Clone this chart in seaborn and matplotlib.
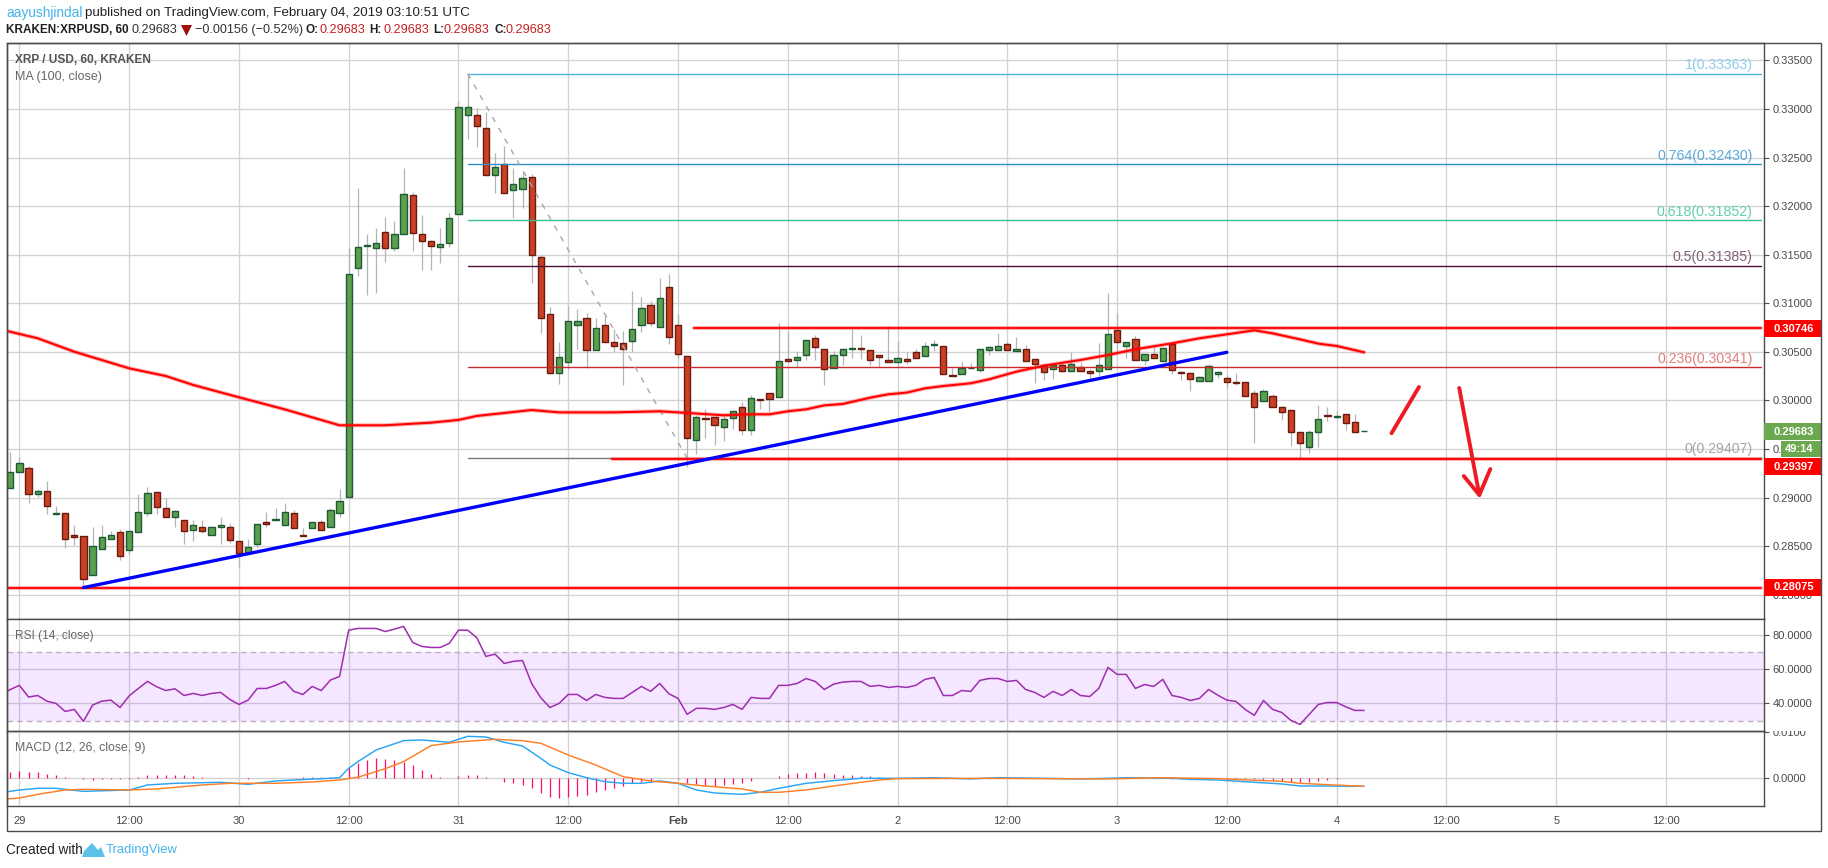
import pandas as pd
import matplotlib.pyplot as plt
import seaborn as sns
from matplotlib.patches import Polygon, Rectangle

sns.set_style("whitegrid")
plt.rcParams['font.family'] = 'Liberation Sans'
plt.rcParams['font.size'] = 8

WIDTH = 1828
HEIGHT = 868
FRAME = '#4b4b4b'
GRID = '#d3d3d3'
TEXT = '#4a4a4a'

# open, high, low, close for every hour, first row is 28 Jan 23:00
CANDLES = [
    (.29097, .29471, .29097, .29261), (.29261, .29416, .29261, .29354), (.29303, .29327, .28949, .29035),
    (.29035, .29087, .29011, .29066), (.29066, .29172, .28836, .28912), (.28836, .28915, .28826, .28843),
    (.28840, .28840, .28486, .28572), (.28613, .28720, .28517, .28600), (.28603, .28603, .28085, .28161),
    (.28202, .28699, .28202, .28500), (.28469, .28720, .28469, .28593), (.28579, .28654, .28579, .28613),
    (.28644, .28675, .28363, .28397), (.28459, .28665, .28425, .28654), (.28644, .29039, .28644, .28850),
    (.28840, .29111, .28816, .29045), (.29056, .29056, .28836, .28901), (.28891, .28994, .28798, .28798),
    (.28798, .28870, .28699, .28860), (.28768, .28768, .28528, .28654), (.28665, .28771, .28558, .28716),
    (.28696, .28771, .28641, .28661), (.28613, .28696, .28613, .28696), (.28696, .28802, .28528, .28716),
    (.28696, .28737, .28531, .28562), (.28552, .28552, .28291, .28428), (.28428, .28576, .28428, .28490),
    (.28521, .28726, .28497, .28726), (.28747, .28850, .28702, .28726), (.28768, .28891, .28768, .28778),
    (.28716, .28946, .28716, .28850), (.28840, .28870, .28685, .28685), (.28613, .28685, .28603, .28603),
    (.28685, .28747, .28685, .28747), (.28747, .28771, .28665, .28665), (.28696, .28891, .28696, .28870),
    (.28840, .29090, .28802, .28963), (.29004, .31565, .29004, .31298), (.31359, .32182, .31284, .31576),
    (.31586, .31713, .31089, .31596), (.31565, .31771, .31109, .31624), (.31730, .31888, .31428, .31565),
    (.31565, .31846, .31538, .31709), (.31709, .32388, .31709, .32121), (.32110, .32141, .31538, .31720),
    (.31709, .31905, .31346, .31637), (.31637, .31651, .31346, .31586), (.31576, .31771, .31418, .31606),
    (.31617, .31925, .31582, .31874), (.31915, .33081, .31915, .33016), (.32933, .33363, .32693, .33016),
    (.32933, .33005, .32611, .32820), (.32800, .32964, .32316, .32316), (.32316, .32542, .32138, .32398),
    (.32429, .32614, .32131, .32131), (.32162, .32388, .31877, .32224), (.32172, .32350, .31984, .32285),
    (.32296, .32326, .31205, .31493), (.31473, .31493, .30698, .30845), (.30886, .30958, .30269, .30279),
    (.30279, .30598, .30173, .30444), (.30392, .30969, .30320, .30814), (.30773, .30938, .30533, .30814),
    (.30845, .30897, .30331, .30516), (.30516, .30845, .30516, .30742), (.30773, .30886, .30598, .30598),
    (.30598, .30732, .30502, .30557), (.30588, .30711, .30163, .30526), (.30609, .31123, .30502, .30732),
    (.30773, .31061, .30708, .30948), (.30979, .31020, .30770, .30794), (.30753, .31257, .30753, .31051),
    (.31164, .31301, .30585, .30650), (.30773, .30886, .30437, .30475), (.30454, .30454, .29319, .29611),
    (.29590, .29848, .29446, .29827), (.29817, .29909, .29618, .29806), (.29827, .29827, .29539, .29745),
    (.29724, .29858, .29587, .29806), (.29817, .29889, .29704, .29889), (.29930, .29981, .29642, .29693),
    (.29693, .30057, .29649, .30022), (.30012, .30012, .29916, .30002), (.30074, .30074, .29878, .30012),
    (.30033, .30794, .30033, .30403), (.30424, .30712, .30403, .30403), (.30413, .30506, .30341, .30444),
    (.30465, .30619, .30420, .30619), (.30640, .30674, .30413, .30547), (.30527, .30527, .30163, .30321),
    (.30331, .30506, .30331, .30465), (.30465, .30537, .30369, .30527), (.30527, .30732, .30441, .30537),
    (.30537, .30671, .30424, .30527), (.30516, .30516, .30362, .30413), (.30465, .30465, .30341, .30444),
    (.30413, .30763, .30393, .30393), (.30393, .30609, .30331, .30434), (.30424, .30496, .30372, .30403),
    (.30496, .30527, .30434, .30434), (.30454, .30599, .30454, .30557), (.30568, .30619, .30509, .30578),
    (.30557, .30557, .30269, .30269), (.30262, .30331, .30256, .30256), (.30269, .30393, .30269, .30338),
    (.30331, .30382, .30331, .30335), (.30310, .30527, .30290, .30527), (.30516, .30557, .30465, .30547),
    (.30516, .30695, .30516, .30557), (.30578, .30599, .30516, .30516), (.30506, .30650, .30506, .30527),
    (.30527, .30568, .30403, .30403), (.30424, .30424, .30184, .30372), (.30362, .30372, .30214, .30290),
    (.30321, .30382, .30225, .30362), (.30362, .30393, .30290, .30300), (.30300, .30496, .30300, .30372),
    (.30341, .30393, .30300, .30300), (.30300, .30321, .30218, .30280), (.30300, .30592, .30249, .30362),
    (.30321, .31106, .30321, .30681), (.30722, .30900, .30475, .30599), (.30557, .30599, .30434, .30599),
    (.30629, .30660, .30413, .30413), (.30413, .30475, .30365, .30475), (.30475, .30547, .30434, .30434),
    (.30403, .30537, .30403, .30537), (.30578, .30599, .30276, .30310), (.30290, .30300, .30214, .30280),
    (.30280, .30290, .30101, .30218), (.30197, .30249, .30197, .30238), (.30197, .30376, .30197, .30352),
    (.30269, .30300, .30235, .30290), (.30228, .30259, .30132, .30187), (.30187, .30280, .30163, .30184),
    (.30187, .30187, .30043, .30043), (.30074, .30105, .29566, .29930), (.29992, .30115, .29992, .30094),
    (.30043, .30064, .29930, .29930), (.29930, .29940, .29803, .29878), (.29899, .29899, .29529, .29673),
    (.29673, .29673, .29405, .29560), (.29518, .29697, .29464, .29673), (.29673, .29950, .29518, .29806),
    (.29848, .29930, .29793, .29837), (.29834, .29889, .29813, .29837), (.29858, .29858, .29700, .29765),
    (.29776, .29858, .29673, .29673), (.29683, .29683, .29683, .29683),
]

MA_100 = [
    (-2, .30730), (2, .30640), (6, .30502), (12, .30331), (16, .30252), (19, .30160), (24, .30033),
    (29, .29909), (35, .29745), (40, .29745), (45, .29772), (48, .29800), (50, .29841), (56, .29902),
    (59, .29878), (65, .29878), (70, .29889), (73, .29872), (77, .29848), (80, .29858), (82, .29858),
    (84, .29889), (86, .29909), (88, .29950), (90, .29964), (93, .30029), (95, .30064), (97, .30081),
    (99, .30125), (101, .30149), (104, .30177), (106, .30218), (109, .30297), (112, .30358), (116, .30417),
    (119, .30468), (122, .30527), (126, .30588), (129, .30640), (132, .30681), (135, .30722), (137, .30691),
    (140, .30629), (142, .30585), (144, .30561), (147, .30496),
]

RSI = [
    45.0, 48.1, 50.5, 43.7, 44.6, 41.3, 40.0, 35.3, 36.5, 29.5, 39.0, 41.3, 41.9, 37.6, 44.4, 48.7,
    52.8, 49.7, 47.5, 48.5, 44.6, 45.8, 44.6, 45.8, 46.4, 42.3, 39.4, 41.9, 48.7, 48.7, 50.5, 52.8,
    47.0, 45.2, 49.9, 47.5, 53.6, 55.7, 82.7, 83.7, 83.7, 83.7, 81.9, 83.3, 84.9, 75.5, 73.2, 72.6,
    72.6, 75.0, 82.7, 82.7, 78.3, 67.4, 68.7, 63.3, 64.5, 65.0, 51.6, 43.3, 37.6, 40.0, 45.2, 45.2,
    41.7, 45.2, 43.5, 42.9, 42.9, 46.4, 49.9, 47.0, 51.6, 45.6, 42.9, 33.6, 37.1, 37.1, 36.5, 37.6,
    39.4, 36.5, 43.5, 42.9, 42.9, 50.5, 50.5, 51.6, 54.5, 52.8, 48.1, 51.2, 52.4, 52.8, 52.8, 49.9,
    50.5, 49.3, 49.9, 49.3, 50.5, 54.0, 55.1, 44.6, 44.6, 47.5, 47.0, 53.4, 54.5, 54.5, 52.8, 53.4,
    48.1, 46.4, 43.5, 47.0, 44.6, 48.1, 44.6, 44.0, 48.7, 61.0, 56.9, 56.9, 48.7, 51.0, 49.9, 54.0,
    44.6, 43.5, 41.7, 42.9, 48.1, 44.8, 41.9, 41.1, 36.5, 33.0, 41.7, 36.5, 34.7, 30.1, 27.7, 33.6,
    39.4, 40.5, 40.5, 38.0, 35.9, 35.9,
]

MACD_LINE = [
    (-2, -.00310), (0, -.00252), (2, -.00216), (4, -.00216), (7, -.00281), (12, -.00252), (14, -.00144),
    (17, -.00108), (22, -.00086), (25, -.00130), (28, -.00058), (30, -.00036), (34, 0), (35, .00014),
    (36, .00216), (37, .00360), (39, .00612), (42, .00814), (44, .00828), (47, .00778), (49, .00907),
    (51, .00893), (53, .00778), (55, .00698), (57, .00432), (58, .00288), (60, .00122), (62, .00014),
    (64, -.00072), (66, -.00108), (68, -.00108), (70, -.00058), (72, -.00108), (74, -.00252), (76, -.00317),
    (79, -.00346), (81, -.00302), (83, -.00216), (86, -.00108), (89, -.00050), (92, 0), (96, 0),
    (100, .00014), (104, -.00014), (107, .00014), (112, 0), (116, -.00014), (119, 0), (121, .00014),
    (126, 0), (128, -.00022), (131, -.00036), (135, -.00086), (138, -.00122), (140, -.00166),
    (143, -.00166), (147, -.00173),
]

SIGNAL_LINE = [
    (-2, -.00454), (0, -.00425), (2, -.00346), (5, -.00252), (7, -.00238), (12, -.00252), (15, -.00230),
    (20, -.00144), (23, -.00108), (28, -.00108), (32, -.00079), (35, -.00036), (37, .00022), (40, .00209),
    (42, .00360), (45, .00706), (48, .00785), (52, .00842), (55, .00814), (57, .00756), (60, .00504),
    (63, .00288), (66, .00036), (69, -.00058), (72, -.00108), (75, -.00166), (79, -.00230), (81, -.00302),
    (83, -.00302), (86, -.00252), (89, -.00166), (92, -.00086), (94, -.00036), (96, -.00007), (105, 0),
    (119, -.00014), (125, .00014), (131, -.00007), (135, -.00043), (138, -.00065), (140, -.00108),
    (143, -.00137), (147, -.00173),
]

HISTOGRAM = [
    .00137, .00166, .00137, .00144, .00094, .00072, .00029, .00014, -.00022, -.00029, -.00014, -.00007,
    -.00014, -.00007, .00029, .00072, .00072, .00072, .00072, .00072, .00058, .00029, .00014, .00014,
    0, 0, -.00014, 0, .00014, .00014, .00014, .00014, .00029, .00029, .00022, .00022, 0, .00216, .00338,
    .00396, .00432, .00418, .00396, .00346, .00288, .00180, .00094, .00022, 0, .00050, .00072, .00072,
    .00022, 0, -.00072, -.00094, -.00144, -.00202, -.00310, -.00396, -.00418, -.00396, -.00374, -.00360,
    -.00288, -.00252, -.00202, -.00166, -.00094, -.00072, -.00050, 0, 0, -.00022, -.00108, -.00130,
    -.00144, -.00166, -.00144, -.00122, -.00094, -.00050, 0, .00014, .00050, .00094, .00115, .00115,
    .00130, .00115, .00094, .00072, .00072, .00058, .00043, .00022, .00003, .00003, .00003, .00003,
    .00003, .00003, .00003, .00003, -.00003, -.00003, -.00003, .00003, .00003, .00003, .00003, .00003,
    -.00003, -.00003, -.00003, -.00003, -.00003, -.00003, -.00003, .00003, .00003, .00003, .00003, .00003,
    .00003, .00003, .00003, -.00007, -.00007, -.00007, -.00007, -.00007, -.00007, -.00022, -.00022,
    -.00014, -.00022, -.00036, -.00036, -.00058, -.00079, -.00086, -.00079, -.00050, -.00029, -.00022,
    0, 0, 0,
]

FIB_LEVELS = [
    ('1', .33363, '#4fb3e0', '#8ccdec'),
    ('0.764', .32430, '#2e8fc7', '#5aa9d8'),
    ('0.618', .31852, '#35c08e', '#5fd0a8'),
    ('0.5', .31385, '#4b1038', '#806078'),
    ('0.236', .30341, '#c62a2a', '#e27d7d'),
    ('0', .29407, '#787878', '#a5a5a5'),
]

TICK_NAMES = ['29', '12:00', '30', '12:00', '31', '12:00', 'Feb', '12:00',
              '2', '12:00', '3', '12:00', '4', '12:00', '5', '12:00']


def px(x, y):
    return x / WIDTH, 1 - y / HEIGHT


def add_pane(fig, top, bottom):
    left, y0 = px(6.6, bottom)
    right, y1 = px(1764, top)
    ax = fig.add_axes([left, y0, right - left, y1 - y0])
    ax.set_xlim(-1.4, 190.72)
    ax.set_xticks(range(0, 181, 12))
    ax.yaxis.tick_right()
    ax.grid(True, color=GRID, linewidth=0.95)
    ax.set_axisbelow(True)
    ax.tick_params(axis='y', length=3.5, width=0.8, color=FRAME, labelcolor=TEXT, labelsize=8, pad=2.5, right=True)
    ax.tick_params(axis='x', length=0, labelbottom=False)
    for spine in ax.spines.values():
        spine.set_color(FRAME)
        spine.set_linewidth(1.0)
    ax.set_xlabel('')
    return ax


def red_level(ax, start, end, price):
    ax.plot([start, end], [price, price], color='#ff0000', linewidth=3.0, alpha=0.3, zorder=5)
    ax.plot([start, end], [price, price], color='#ff0000', linewidth=1.3, zorder=5)


def draw_price(ax, df):
    up = df['close'] >= df['open']
    for mask, fill, edge in [(up, '#5c9f4c', '#1d5a36'), (~up, '#c94024', '#6b1a10')]:
        part = df[mask]
        ax.vlines(part['hour'], part['low'], part['high'], color='#b4b4b4', linewidth=0.9, zorder=2)
        ax.bar(part['hour'], (part['close'] - part['open']).abs(), bottom=part[['open', 'close']].min(axis=1),
               width=0.68, color=fill, edgecolor=edge, linewidth=1.0, zorder=3)

    for name, price, color, label_color in FIB_LEVELS:
        ax.plot([49, 190.4], [price, price], color=color, linewidth=1.0, zorder=4)
        ax.text(189.5, price + 0.00018, f'{name}({price:.5f})', color=label_color, fontsize=10.2,
                ha='right', va='bottom', zorder=6)
    ax.plot([49, 73], [.33363, .29407], color='#a8a8a8', linewidth=1.0, linestyle=(0, (4, 5)), zorder=4)

    ma = pd.DataFrame(MA_100, columns=['hour', 'ma'])
    sns.lineplot(data=ma, x='hour', y='ma', color='#ff0000', linewidth=3.0, alpha=0.3, errorbar=None, ax=ax, zorder=5)
    sns.lineplot(data=ma, x='hour', y='ma', color='#ff0000', linewidth=1.5, errorbar=None, ax=ax, zorder=5)

    ax.plot([7, 132], [.28075, .30496], color='#0000ff', linewidth=2.4, zorder=6)
    red_level(ax, -1.4, 190.4, .28075)
    red_level(ax, 73.8, 190.4, .30746)
    red_level(ax, 64.8, 190.4, .29397)

    arrow = dict(color='#ed1c24', linewidth=2.8, solid_capstyle='round', solid_joinstyle='round', zorder=7)
    ax.plot([150, 153], [.29663, .30139], **arrow)
    ax.plot([157.4, 159.6], [.30129, .29028], **arrow)
    ax.plot([157.9, 159.6, 160.8], [.29223, .29028, .29295], **arrow)

    ax.set_ylim(.27752, .33678)
    ax.set_yticks([.280 + i * .005 for i in range(12)])
    names = [f'{.280 + i * .005:.5f}' for i in range(12)]
    names[3] = '0.'  # the rest of this one lies under the countdown tag
    ax.set_yticklabels(names)
    ax.set_ylabel('')


def draw_rsi(ax):
    rsi = pd.DataFrame({'hour': range(-2, 148), 'rsi': RSI})
    ax.axhspan(30, 70, color='#9915ff', alpha=0.1, linewidth=0, zorder=2)
    ax.axhline(70, color='#bcaec6', linewidth=1.0, linestyle=(0, (4, 3)), zorder=2)
    ax.axhline(30, color='#bcaec6', linewidth=1.0, linestyle=(0, (4, 3)), zorder=2)
    sns.lineplot(data=rsi, x='hour', y='rsi', color='#a02cb0', linewidth=1.1, errorbar=None, ax=ax, zorder=4)
    ax.set_ylim(23.9, 89.2)
    ax.set_yticks([40, 60, 80])
    ax.set_yticklabels(['40.0000', '60.0000', '80.0000'])
    ax.set_ylabel('')


def draw_macd(ax, df):
    macd = pd.DataFrame(MACD_LINE, columns=['hour', 'value'])
    signal = pd.DataFrame(SIGNAL_LINE, columns=['hour', 'value'])
    ax.vlines(df['hour'], 0, HISTOGRAM, color='#ff0a6c', linewidth=0.9, zorder=3)
    sns.lineplot(data=macd, x='hour', y='value', color='#2aa5f5', linewidth=1.05, errorbar=None, ax=ax, zorder=4)
    sns.lineplot(data=signal, x='hour', y='value', color='#ff7f27', linewidth=1.05, errorbar=None, ax=ax, zorder=5)
    ax.set_ylim(-.00598, .01022)
    ax.set_yticks([0, .01])
    ax.set_yticklabels(['0.0000', '0.0100'])
    ax.set_ylabel('')
    ax.set_xticklabels(TICK_NAMES)
    ax.tick_params(axis='x', length=3.5, width=0.8, color=FRAME, labelcolor=TEXT, labelsize=8, pad=4, labelbottom=True)
    ax.set_xlabel('')
    for label in ax.get_xticklabels():
        if label.get_text() == 'Feb':
            label.set_fontweight('bold')


def draw_tags(fig):
    transform = fig.transFigure
    for top, bottom, color, text in [(320, 337, '#ff0000', '0.30746'), (423, 440, '#6ca84f', '0.29683'),
                                     (458, 475, '#ff0000', '0.29397'), (579, 596, '#ff0000', '0.28075')]:
        x0, y0 = px(1764, bottom)
        x1, y1 = px(1821, top)
        fig.add_artist(Rectangle((x0, y0), x1 - x0, y1 - y0, transform=transform, color=color, linewidth=0, zorder=1))
        fig.text(*px(1773, (top + bottom) / 2), text, color='white', fontsize=8, fontweight='bold', va='center', zorder=3)
    x0, y0 = px(1781, 457)
    x1, y1 = px(1821, 441)
    fig.add_artist(Rectangle((x0, y0), x1 - x0, y1 - y0, transform=transform, color='#6ca84f', linewidth=0, zorder=1))
    fig.text(*px(1785, 449), '49:14', color='white', fontsize=8, fontweight='bold', va='center', zorder=3)

    # top half of the 0.0100 label is cut off by the RSI pane
    x0, y0 = px(1768, 731)
    x1, y1 = px(1820, 722)
    fig.add_artist(Rectangle((x0, y0), x1 - x0, y1 - y0, transform=transform, color='white', linewidth=0, zorder=1))


def draw_texts(fig):
    fig.text(*px(6, 13), 'aayushjindal', color='#45b4ea', fontsize=9.8, va='center')
    fig.text(*px(85, 13), 'published on TradingView.com, February 04, 2019 03:10:51 UTC', color='#222222',
             fontsize=9.6, va='center')
    fig.text(*px(6, 30), 'KRAKEN:XRPUSD, 60', color='#222222', fontsize=8.5, fontweight='bold', va='center')
    fig.text(*px(132, 30), '0.29683', color='#333333', fontsize=9.1, va='center')
    fig.add_artist(Polygon([px(181, 25), px(192, 25), px(186.5, 36)], transform=fig.transFigure,
                           color='#a01010', linewidth=0))
    fig.text(*px(195, 30), '\u22120.00156 (\u22120.52%)', color='#333333', fontsize=9.1, va='center')
    for x, name, value_x in [(305, 'O:', 319), (369, 'H:', 383), (433, 'L:', 444), (494, 'C:', 506)]:
        fig.text(*px(x, 30), name, color='#222222', fontsize=8.5, fontweight='bold', va='center')
        fig.text(*px(value_x, 30), '0.29683', color='#c62020', fontsize=9.1, va='center')

    fig.text(*px(15, 60), 'XRP / USD, 60, KRAKEN', color='#555555', fontsize=8.6, fontweight='bold', va='center')
    fig.text(*px(15, 77), 'MA (100, close)', color='#666666', fontsize=9, va='center')
    fig.text(*px(15, 636), 'RSI (14, close)', color='#666666', fontsize=8.6, va='center')
    fig.text(*px(15, 748), 'MACD (12, 26, close, 9)', color='#666666', fontsize=8.8, va='center')

    fig.text(*px(6, 850), 'Created with', color='#222222', fontsize=9.8, va='center')
    fig.add_artist(Polygon([px(82, 857), px(84, 851), px(92, 843), px(98, 850), px(101, 847), px(105, 857)],
                           transform=fig.transFigure, color='#5cc1ea', linewidth=0))
    fig.text(*px(106, 850), 'TradingView', color='#45b4ea', fontsize=9.4, va='center')

    x0, y0 = px(6.6, 831)
    x1, y1 = px(1821, 43)
    fig.add_artist(Rectangle((x0, y0), x1 - x0, y1 - y0, transform=fig.transFigure, fill=False,
                             edgecolor=FRAME, linewidth=1.0, zorder=2))


def main():
    df = pd.DataFrame(CANDLES, columns=['open', 'high', 'low', 'close'])
    df['hour'] = range(-1, len(df) - 1)

    fig = plt.figure(figsize=(WIDTH / 100, HEIGHT / 100), dpi=100, facecolor='white')
    ax_price = add_pane(fig, 43, 619)
    ax_rsi = add_pane(fig, 619, 731)
    ax_macd = add_pane(fig, 731, 806)

    draw_price(ax_price, df)
    draw_rsi(ax_rsi)
    draw_macd(ax_macd, df)
    draw_tags(fig)
    draw_texts(fig)

    fig.savefig('out.png', dpi=100)
    plt.close()


if __name__ == '__main__':
    main()
